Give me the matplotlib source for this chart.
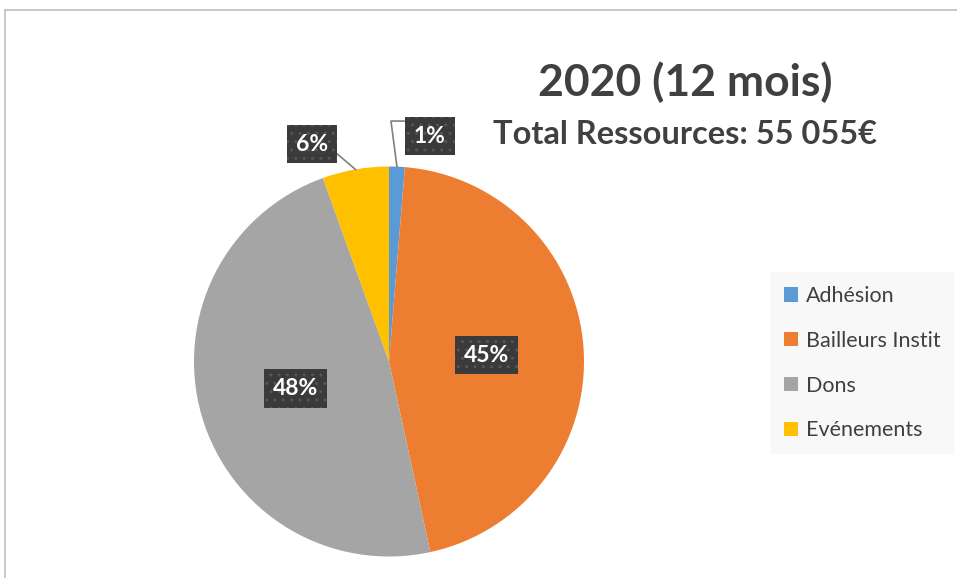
import numpy as np
import matplotlib.pyplot as plt
from matplotlib.patches import Patch

plt.rcParams['font.family'] = ['Lato', 'DejaVu Sans']

# donnees
categories = ['Adhésion', 'Bailleurs Instit', 'Dons', 'Evénements']
parts = [1.3, 45.3, 47.9, 5.5]
labels_txt = ['1%', '45%', '48%', '6%']
colors = ['#5b9bd5', '#ed7d31', '#a5a5a5', '#ffc000']
title = '2020 (12 mois)'
subtitle = 'Total Ressources: 55 055€'

W, H = 957, 578
fig = plt.figure(figsize=(W / 100, H / 100), dpi=100)
fig.patch.set_facecolor('white')

# cadre gris (haut + gauche)
fig.add_artist(plt.Line2D([5 / W, 1], [1 - 10 / H, 1 - 10 / H], color='#bfbfbf', lw=1.2))
fig.add_artist(plt.Line2D([5 / W, 5 / W], [0, 1 - 10 / H], color='#bfbfbf', lw=1.2))

# axe du camembert, centre (389, 361.5), rayon 195 px
cx, cy, r = 389, 361.5, 195
ax = fig.add_axes([(cx - r) / W, (H - cy - r) / H, 2 * r / W, 2 * r / H])
wedges, _ = ax.pie(parts, colors=colors, startangle=90, counterclock=False,
                   radius=1, wedgeprops=dict(linewidth=0))
ax.set_xlim(-1, 1)
ax.set_ylim(-1, 1)
ax.set_aspect('equal')
ax.axis('off')

box = dict(boxstyle='square,pad=0.38', facecolor='#3a3a3a', edgecolor='#555555',
           hatch='..', linewidth=0)
txt_kw = dict(color='white', fontsize=16.5, fontweight='bold', ha='center', va='center',
              bbox=box, zorder=5)

def mid_point(w, rr):
    a = np.deg2rad((w.theta1 + w.theta2) / 2)
    return rr * np.cos(a), rr * np.sin(a)

# grandes parts : etiquettes dans la part
for i in (1, 2):
    x, y = mid_point(wedges[i], 0.5)
    ax.text(x, y, labels_txt[i], **txt_kw)

# petites parts : etiquettes dehors avec ligne de rappel
ax.text(0.21, 1.156, labels_txt[0], clip_on=False, **txt_kw)
x0, y0 = mid_point(wedges[0], 1.0)
ax.plot([x0, 0.01, 0.077], [y0, 1.233, 1.233], color='#808080', lw=1.2, clip_on=False)

ax.text(-0.395, 1.115, labels_txt[3], clip_on=False, **txt_kw)
x3, y3 = mid_point(wedges[3], 1.0)
ax.plot([x3, -0.277], [y3, 1.074], color='#808080', lw=1.2, clip_on=False)

# titres
fig.text(685 / W, 1 - 82 / H, title, ha='center', va='center', fontsize=32,
         fontweight='bold', color='#404040')
fig.text(685 / W, 1 - 134 / H, subtitle, ha='center', va='center', fontsize=23.5,
         fontweight='bold', color='#404040')

# legende
handles = [Patch(facecolor=c, edgecolor='none') for c in colors]
leg = fig.legend(handles, categories, loc='upper left',
                 bbox_to_anchor=(770 / W, 1 - 272 / H), frameon=True,
                 fontsize=15.5, handlelength=0.65, handleheight=0.65,
                 handletextpad=0.35, labelspacing=1.15, borderpad=0.65,
                 borderaxespad=0, labelcolor='#404040')
leg.get_frame().set_facecolor('#f7f7f7')
leg.get_frame().set_edgecolor('none')
leg.get_frame().set_boxstyle('square', pad=0)

fig.savefig('out.png', dpi=100, facecolor='white')
